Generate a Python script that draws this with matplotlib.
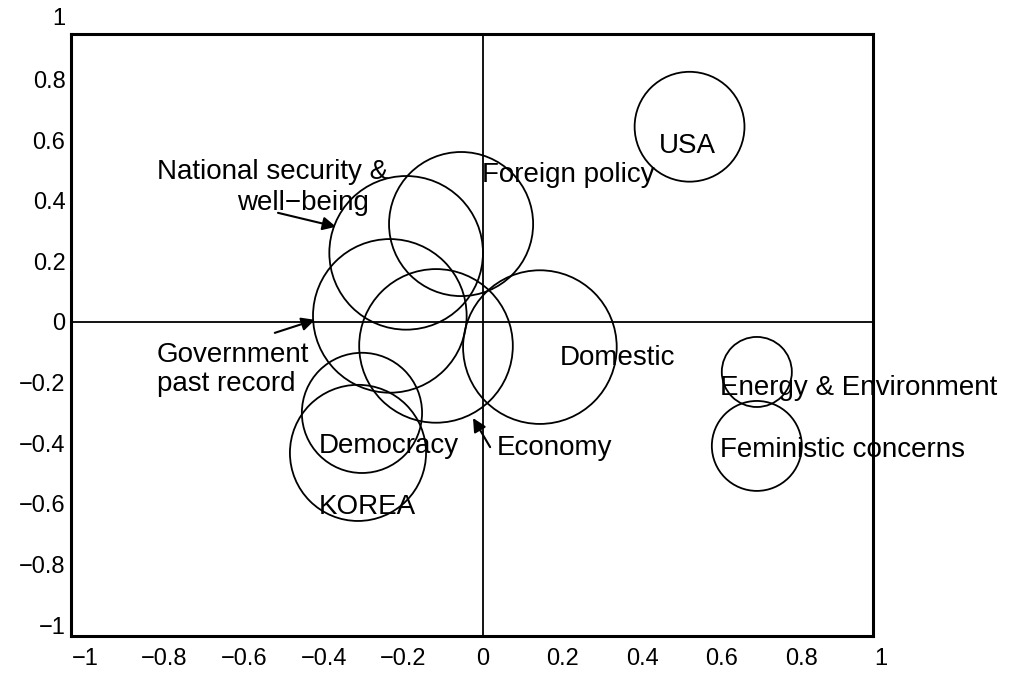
import matplotlib.pyplot as plt
from matplotlib.patches import Ellipse

plt.rcParams['font.family'] = ['Liberation Sans', 'DejaVu Sans']

# circle centres and radii (radius in x-axis units)
names = ['USA', 'Foreign policy', 'National security', 'Government', 'Economy',
         'Domestic', 'Democracy', 'KOREA', 'Energy', 'Feministic']
cx = [0.519, -0.055, -0.193, -0.234, -0.118, 0.143, -0.304, -0.314, 0.688, 0.688]
cy = [0.644, 0.323, 0.228, 0.020, -0.079, -0.083, -0.300, -0.432, -0.165, -0.409]
rad = [0.138, 0.181, 0.193, 0.193, 0.193, 0.193, 0.151, 0.171, 0.088, 0.113]

# labels (left x, baseline y)
labels = ['USA', 'Foreign policy', 'National security &', 'well\u2212being',
          'Government', 'past record', 'Democracy', 'KOREA', 'Economy',
          'Domestic', 'Energy & Environment', 'Feministic concerns']
lx = [0.442, -0.003, -0.819, -0.618, -0.819, -0.819, -0.412, -0.412, 0.035,
      0.193, 0.595, 0.595]
ly = [0.558, 0.462, 0.472, 0.370, -0.132, -0.228, -0.432, -0.634, -0.439,
      -0.142, -0.241, -0.446]

# arrows: tail -> tip
arr_from = [(-0.515, 0.360), (-0.523, -0.036), (0.018, -0.413)]
arr_to = [(-0.369, 0.314), (-0.422, 0.007), (-0.025, -0.317)]

ticks = [-1, -0.8, -0.6, -0.4, -0.2, 0, 0.2, 0.4, 0.6, 0.8]
tick_labels = ['\u22121', '\u22120.8', '\u22120.6', '\u22120.4', '\u22120.2',
               '0', '0.2', '0.4', '0.6', '0.8']

fig = plt.figure(figsize=(10.1, 6.73), dpi=100)
ax = fig.add_axes([0.0703, 0.055, 0.7941, 0.8945])
ax.set_xlim(-1.035, 0.980)
ax.set_ylim(-1.036, 0.950)

# ratio so circles stay round on screen
bbox = ax.get_window_extent()
px_x = bbox.width / (0.980 + 1.035)
px_y = bbox.height / (0.950 + 1.036)
ratio = px_x / px_y

ax.axhline(0, color='k', lw=1.3)
ax.axvline(0, color='k', lw=1.3)

for x, y, r in zip(cx, cy, rad):
    ax.add_patch(Ellipse((x, y), 2 * r, 2 * r * ratio, fill=False,
                         edgecolor='k', lw=1.3))

for t, x, y in zip(labels, lx, ly):
    ax.text(x, y, t, fontsize=20, va='baseline', ha='left', clip_on=False)

for a, b in zip(arr_from, arr_to):
    ax.annotate('', xy=b, xytext=a,
                arrowprops=dict(arrowstyle='-|>', color='k', lw=1.5,
                                mutation_scale=20, shrinkA=0, shrinkB=0))

ax.set_xticks(ticks)
ax.set_xticklabels(tick_labels)
ax.set_yticks(ticks)
ax.set_yticklabels(tick_labels)
ax.tick_params(length=0, labelsize=17)
ax.tick_params(axis='x', pad=9)
ax.tick_params(axis='y', pad=4)
# the "1" labels sit outside the box limits
ax.annotate('1', xy=(1.0, 0), xycoords=('data', 'axes fraction'),
            xytext=(0, -9), textcoords='offset points',
            fontsize=17, ha='center', va='top', annotation_clip=False)
ax.annotate('1', xy=(0, 1.0), xycoords=('axes fraction', 'data'),
            xytext=(-4, 0), textcoords='offset points',
            fontsize=17, ha='right', va='center', annotation_clip=False)
for sp in ax.spines.values():
    sp.set_linewidth(2.2)

fig.savefig('out.png', dpi=100)
